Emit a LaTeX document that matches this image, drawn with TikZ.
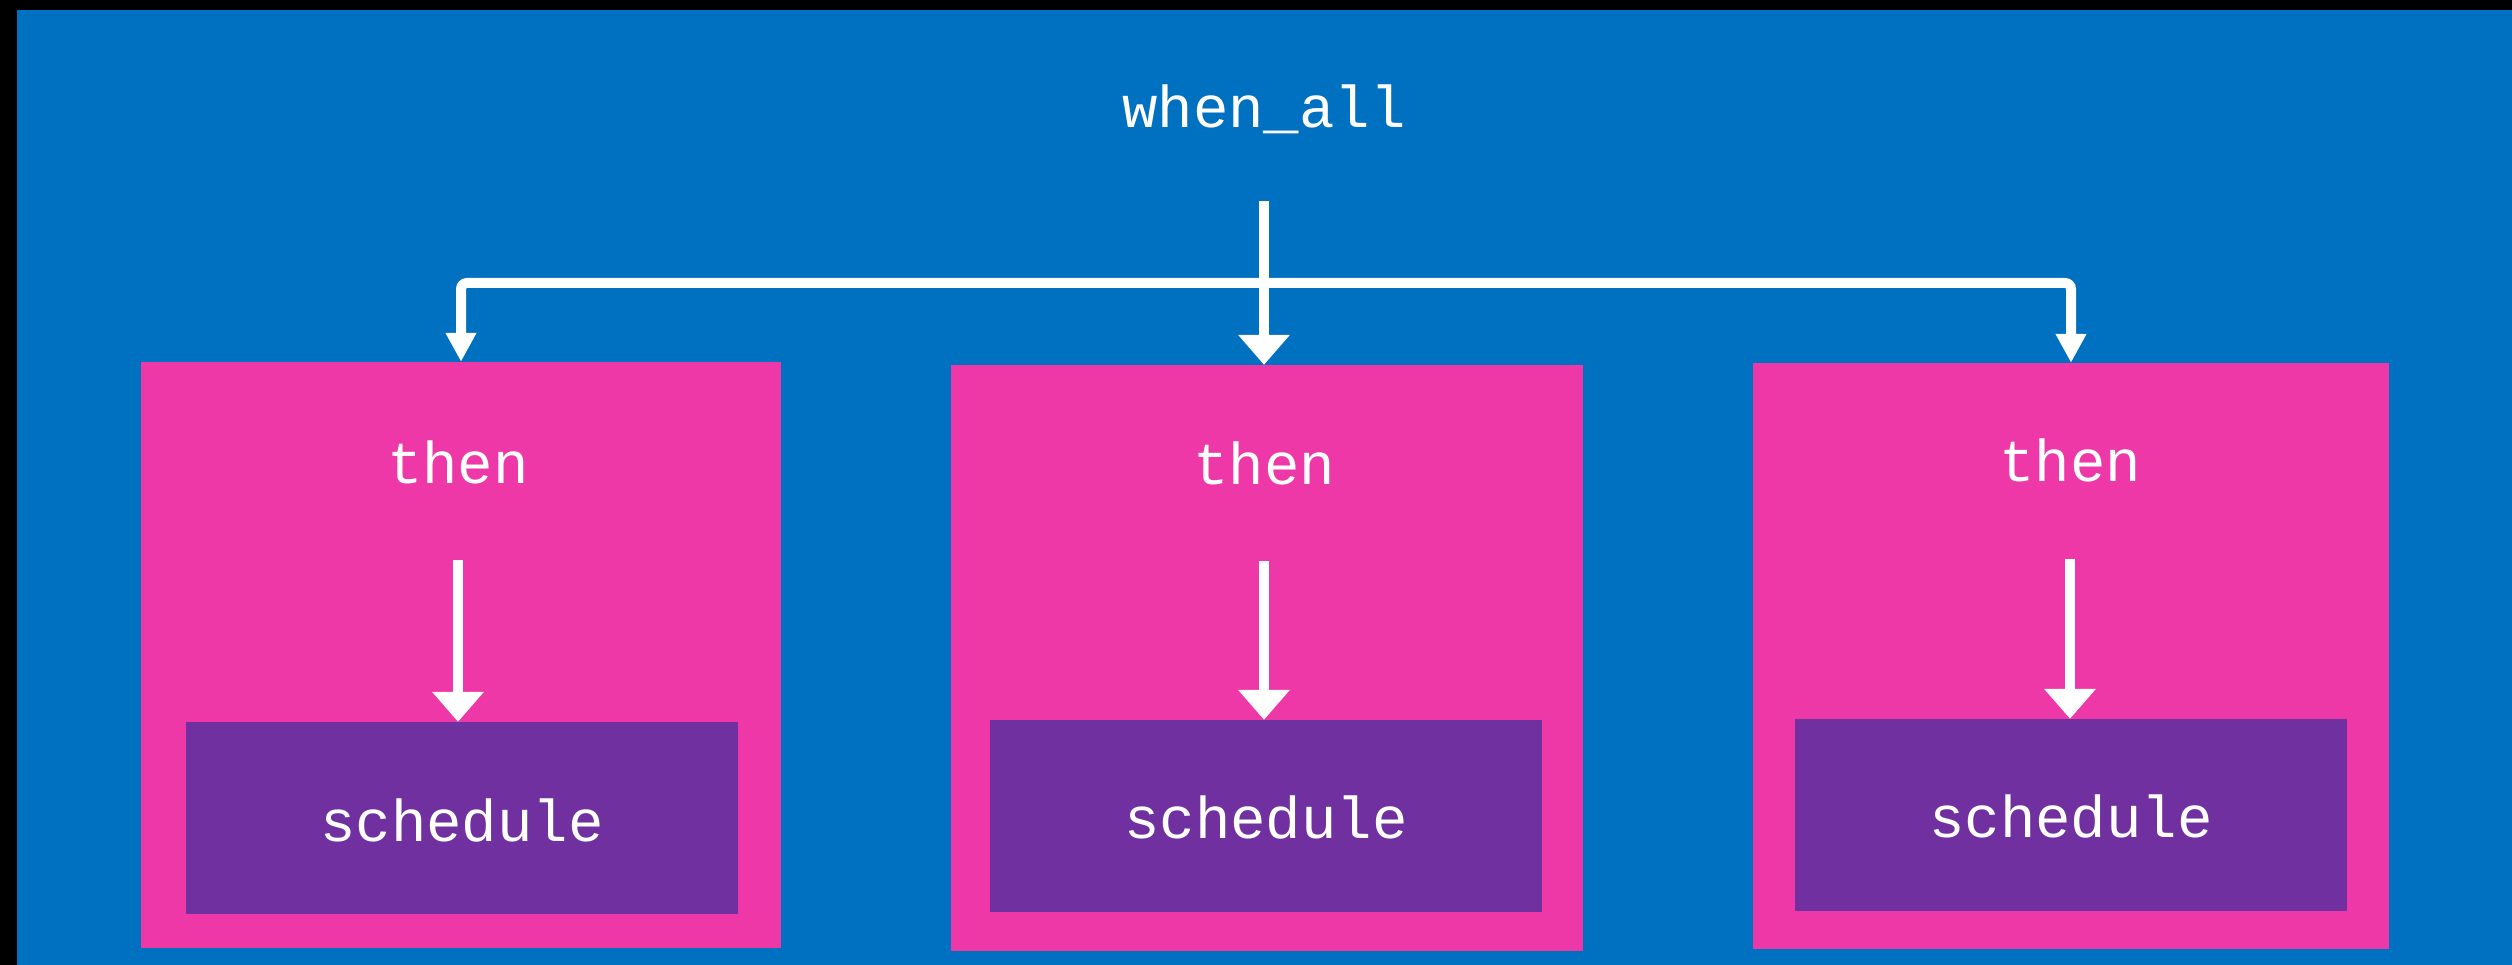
\documentclass[tikz,border=0pt]{standalone}
\usepackage{fontspec}
\setmonofont{Liberation Mono}
\usetikzlibrary{arrows.meta,calc}
\definecolor{bgblue}{HTML}{0070C0}
\definecolor{boxpink}{HTML}{EE38A7}
\definecolor{boxpurple}{HTML}{7030A0}
\tikzset{
  outerbox/.style={fill=boxpink,draw=none,inner sep=0pt,minimum height=586pt},
  innerbox/.style={fill=boxpurple,draw=none,inner sep=0pt,minimum width=552pt,minimum height=192pt},
  lbl/.style={text=white,inner sep=0pt,anchor=base,font=\ttfamily\fontsize{59}{70}\selectfont},
  bigarrow/.style={draw=white,line width=10pt,-{Triangle[width=50pt,length=30pt]}},
  sidearrow/.style={draw=white,line width=10pt,rounded corners=6pt,-{Triangle[width=29pt,length=29pt]}}
}
\begin{document}
\begin{tikzpicture}[x=1pt,y=-1pt]
\useasboundingbox (0,0) rectangle (2512,965);
\fill[black] (0,0) rectangle (2512,965);
\fill[bgblue] (17,10) rectangle (2512,965);

% outer boxes
\node[outerbox,minimum width=640pt] (pink1) at (461,655) {};
\node[outerbox,minimum width=632pt] (pink2) at (1267,658) {};
\node[outerbox,minimum width=636pt] (pink3) at (2071,656) {};

% inner boxes
\node[innerbox] (purple1) at (462,818) {};
\node[innerbox] (purple2) at (1266,816) {};
\node[innerbox] (purple3) at (2071,815) {};

% texts
\node[lbl] (when) at (1264,128) {when\_all};
\node[lbl] (then1) at (458,483) {then};
\node[lbl] (then2) at (1264,484) {then};
\node[lbl] (then3) at (2070,482) {then};
\node[lbl] (sched1) at (462,841) {schedule};
\node[lbl] (sched2) at (1266,838) {schedule};
\node[lbl] (sched3) at (2071,837) {schedule};

% top arrows
\coordinate (junc) at ([yshift=-155pt]when.base);
\draw[sidearrow] (junc) -| (pink1.north);
\draw[sidearrow] (junc) -| (pink3.north);
\draw[bigarrow] ([yshift=-73pt]when.base) -- (when.base |- pink2.north);

% inner arrows
\draw[bigarrow] ([yshift=-77pt]then1.base) -- (then1.base |- purple1.north);
\draw[bigarrow] ([yshift=-77pt]then2.base) -- (then2.base |- purple2.north);
\draw[bigarrow] ([yshift=-77pt]then3.base) -- (then3.base |- purple3.north);
\end{tikzpicture}
\end{document}
